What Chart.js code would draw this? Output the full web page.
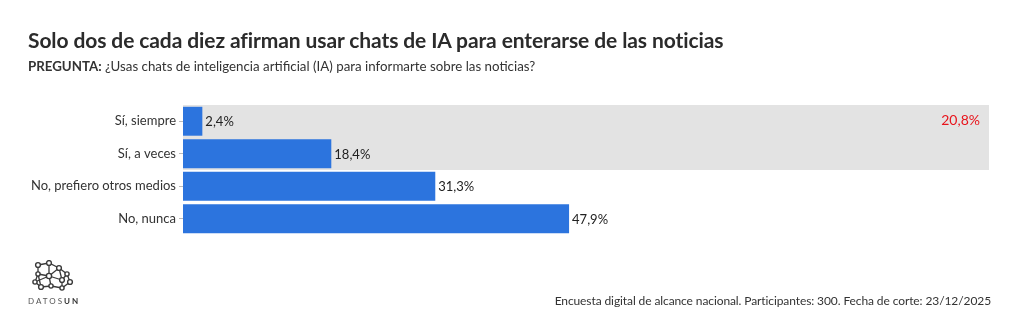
<!DOCTYPE html>
<html>
<head>
<meta charset="utf-8">
<script src="https://cdn.jsdelivr.net/npm/chart.js@4"></script>
<style>
  body { margin: 0; background: #fff; font-family: Lato, "Noto Sans", sans-serif; color: #333; }
  #wrap { position: relative; width: 1020px; height: 323px; overflow: hidden; }
  #chart { position: absolute; left: 0; top: 0; }
  .title { position: absolute; left: 28px; top: 27px; font-size: 21px; font-weight: 700; color: #2b2b2b; letter-spacing: -0.1px; }
  .sub { position: absolute; left: 28px; top: 58px; font-size: 13.3px; color: #333; }
  .sub b { font-weight: 700; }
  .foot { position: absolute; right: 29px; top: 293px; font-size: 12px; color: #333; letter-spacing: -0.1px; }
  .logo { position: absolute; left: 29px; top: 260px; }
  .logotxt { position: absolute; left: 28px; top: 296px; font-size: 8px; letter-spacing: 2px; color: #555; }
  .logotxt b { color: #333; }
</style>
</head>
<body>
<div id="wrap">
  <canvas id="chart" width="1020" height="323"></canvas>
  <div class="title">Solo dos de cada diez afirman usar chats de IA para enterarse de las noticias</div>
  <div class="sub"><b>PREGUNTA:</b> ¿Usas chats de inteligencia artificial (IA) para informarte sobre las noticias?</div>
  <svg class="logo" width="46" height="32" viewBox="0 0 46 32">
    <g stroke="#3a3a3a" stroke-width="1.3" fill="none">
      <polyline points="9,5 20,3 30,8 38,14 41,22 33,28 22,26 12,27 6,22 9,14 9,5"/>
      <line x1="9" y1="14" x2="20" y2="16"/><line x1="20" y1="3" x2="20" y2="16"/>
      <line x1="20" y1="16" x2="30" y2="8"/><line x1="20" y1="16" x2="33" y2="20"/>
      <line x1="33" y1="20" x2="38" y2="14"/><line x1="33" y1="20" x2="33" y2="28"/>
      <line x1="20" y1="16" x2="22" y2="26"/><line x1="9" y1="14" x2="12" y2="27"/>
      <line x1="30" y1="8" x2="33" y2="20"/><line x1="6" y1="22" x2="20" y2="16"/>
    </g>
    <g fill="#fff" stroke="#3a3a3a" stroke-width="1.4">
      <circle cx="9" cy="5" r="2.4"/><circle cx="20" cy="3" r="2.4"/><circle cx="30" cy="8" r="2.4"/>
      <circle cx="38" cy="14" r="2.1"/><circle cx="41" cy="22" r="2.4"/><circle cx="33" cy="28" r="2.1"/>
      <circle cx="22" cy="26" r="2.1"/><circle cx="12" cy="27" r="2.4"/><circle cx="6" cy="22" r="2.1"/>
      <circle cx="9" cy="14" r="2.1"/><circle cx="20" cy="16" r="2.6"/><circle cx="33" cy="20" r="2.4"/>
    </g>
  </svg>
  <div class="logotxt">DATOS<b>UN</b></div>
  <div class="foot">Encuesta digital de alcance nacional. Participantes: 300. Fecha de corte: 23/12/2025</div>
</div>
<script>
var categories = ["Sí, siempre", "Sí, a veces", "No, prefiero otros medios", "No, nunca"];
var values = [2.4, 18.4, 31.3, 47.9];
var highlightGroup = ["Sí, siempre", "Sí, a veces"];
var axisMax = 100;

function fmt(v) {
  return v.toFixed(1).replace(".", ",") + "%";
}

var bandPlugin = {
  id: "band",
  beforeDatasetsDraw: function (chart) {
    var ctx = chart.ctx, xs = chart.scales.x, ys = chart.scales.y;
    var i0 = categories.indexOf(highlightGroup[0]);
    var i1 = categories.indexOf(highlightGroup[highlightGroup.length - 1]);
    var step = ys.getPixelForValue(1) - ys.getPixelForValue(0);
    var top = ys.getPixelForValue(i0) - step / 2;
    var bottom = ys.getPixelForValue(i1) + step / 2;
    var left = xs.getPixelForValue(0), right = xs.getPixelForValue(axisMax);
    ctx.save();
    ctx.fillStyle = "#e3e3e3";
    ctx.fillRect(left, top, right - left, bottom - top);
    var total = 0;
    highlightGroup.forEach(function (c) { total += values[categories.indexOf(c)]; });
    ctx.fillStyle = "#e8141c";
    ctx.font = "14px Lato, 'Noto Sans', sans-serif";
    ctx.textAlign = "right";
    ctx.textBaseline = "middle";
    ctx.fillText(fmt(total), right - 9, ys.getPixelForValue(i0) - 1);
    ctx.restore();
  },
  afterDatasetsDraw: function (chart) {
    var ctx = chart.ctx;
    var meta = chart.getDatasetMeta(0);
    ctx.save();
    ctx.fillStyle = "#222";
    ctx.font = "13px Lato, 'Noto Sans', sans-serif";
    ctx.textAlign = "left";
    ctx.textBaseline = "middle";
    meta.data.forEach(function (bar, i) {
      ctx.fillText(fmt(values[i]), bar.x + 3, bar.y + 1);
    });
    ctx.restore();
  }
};

new Chart(document.getElementById("chart"), {
  type: "bar",
  data: {
    labels: categories,
    datasets: [{
      data: values,
      backgroundColor: "#2c74de",
      borderWidth: 0,
      barPercentage: 0.89,
      categoryPercentage: 1
    }]
  },
  options: {
    indexAxis: "y",
    responsive: false,
    animation: false,
    layout: { padding: { top: 105, right: 31, bottom: 88, left: 0 } },
    plugins: { legend: { display: false }, tooltip: { enabled: false } },
    scales: {
      x: { display: false, min: 0, max: axisMax },
      y: {
        afterFit: function (s) { s.width = 183; },
        border: { display: false },
        grid: { drawOnChartArea: false, offset: false, tickLength: 4, color: "#bbb" },
        ticks: { color: "#333", font: { family: "Lato, 'Noto Sans', sans-serif", size: 13 }, padding: 3 }
      }
    }
  },
  plugins: [bandPlugin]
});
</script>
</body>
</html>
